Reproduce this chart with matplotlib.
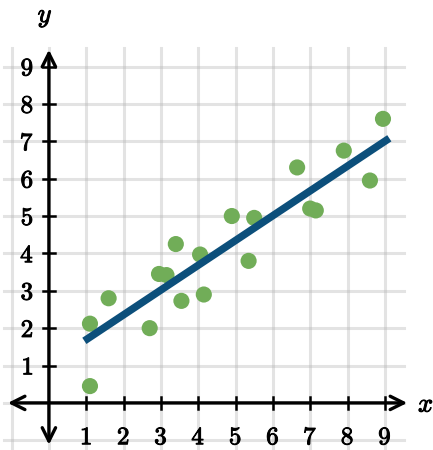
import matplotlib
matplotlib.use("Agg")
from matplotlib import pyplot as plt
from matplotlib import patheffects

plt.rcParams["mathtext.fontset"] = "cm"

# scatter points
pts_x = [1.1, 1.1, 1.6, 2.7, 2.95, 3.15, 3.4, 3.55, 4.05, 4.15,
         4.9, 5.35, 5.5, 6.65, 7.0, 7.15, 7.9, 8.6, 8.95]
pts_y = [0.45, 2.12, 2.8, 2.0, 3.45, 3.42, 4.25, 2.73, 3.97, 2.9,
         5.0, 3.8, 4.95, 6.3, 5.2, 5.15, 6.75, 5.95, 7.6]

# trend line ends
fit_x = [0.95, 9.12]
fit_y = [1.66, 7.08]

ticks = [1, 2, 3, 4, 5, 6, 7, 8, 9]
grid_vals = [-1, 0, 1, 2, 3, 4, 5, 6, 7, 8, 9]

fig = plt.figure(figsize=(4.33, 4.5), dpi=100)
ax = fig.add_axes([0, 0, 1, 1])
ax.set_xlim(-1.31, 10.29)
ax.set_ylim(-1.26, 10.78)
ax.axis("off")

grid_c = "#b0b0b0"
for g in grid_vals:
    ax.plot([g, g], [-1.3, 9.5], color=grid_c, alpha=0.35, lw=2.2, zorder=1)
    ax.plot([-1.2, 9.5], [g, g], color=grid_c, alpha=0.35, lw=2.2, zorder=1)

# axes with open arrow heads
arr = dict(arrowstyle="<->", lw=2.4, color="black", mutation_scale=24,
           shrinkA=0, shrinkB=0)
ax.annotate("", xy=(9.6, 0), xytext=(-1.1, 0), arrowprops=arr, zorder=3)
ax.annotate("", xy=(0, 9.45), xytext=(0, -1.12), arrowprops=arr, zorder=3)

heavy = [patheffects.withStroke(linewidth=0.7, foreground="black")]
for t in ticks:
    ax.plot([t, t], [-0.16, 0.16], color="black", lw=1.8, zorder=3)
    ax.plot([-0.16, 0.16], [t, t], color="black", lw=1.8, zorder=3)
    ax.text(t, -0.92, "$%d$" % t, ha="center", va="center", fontsize=18,
            zorder=4, path_effects=heavy)
    ax.text(-0.4, t - 0.05, "$%d$" % t, ha="right", va="center", fontsize=18,
            zorder=4, path_effects=heavy)

ax.text(-0.1, 10.35, "$y$", ha="center", va="center", fontsize=19, path_effects=heavy)
ax.text(10.1, -0.05, "$x$", ha="center", va="center", fontsize=19, path_effects=heavy)

ax.scatter(pts_x, pts_y, s=135, color="#71ad58", edgecolors="none", zorder=5)
ax.plot(fit_x, fit_y, color="#0c4f7b", lw=5.4, solid_capstyle="butt", zorder=6)

fig.savefig("out.png", dpi=100)
